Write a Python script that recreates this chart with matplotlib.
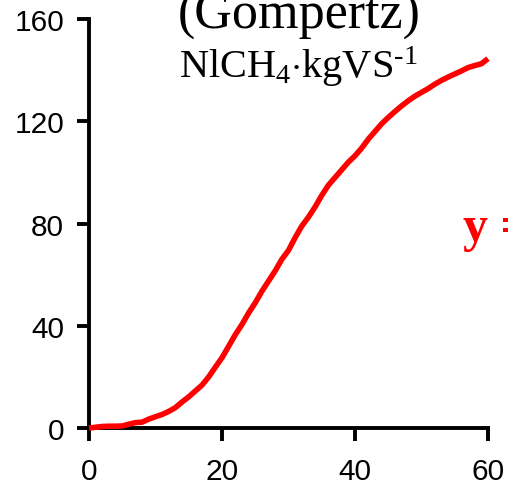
import matplotlib
matplotlib.use("Agg")
import matplotlib.pyplot as plt

# Cumulative methane yield, one reading per day
days = list(range(0, 61))
methane = [
    0.0, 0.3, 0.6, 0.7, 0.7, 0.8, 1.5, 2.1, 2.3, 3.5,
    4.4, 5.3, 6.5, 8.0, 10.2, 12.2, 14.5, 16.8, 20.0, 23.8,
    27.5, 32.0, 36.5, 40.5, 45.0, 49.0, 53.5, 57.5, 61.5, 66.0,
    69.5, 74.5, 79.0, 82.5, 86.5, 91.0, 95.0, 98.0, 101.0, 104.0,
    106.5, 109.5, 113.0, 116.0, 119.0, 121.5, 123.8, 126.0, 128.0, 129.8,
    131.3, 132.8, 134.5, 136.0, 137.3, 138.5, 139.7, 141.0, 141.8, 142.5,
    144.5,
]
x_ticks = [0, 20, 40, 60]
y_ticks = [0, 40, 80, 120, 160]

plt.rcParams.update({
    "font.family": ["Liberation Sans", "DejaVu Sans"],
    "mathtext.fontset": "custom",
    "mathtext.rm": "Liberation Serif",
    "mathtext.it": "Liberation Serif:italic",
    "mathtext.bf": "Liberation Serif:bold",
})

fig = plt.figure(figsize=(5.08, 4.89), dpi=100)
ax = fig.add_axes([0.1752, 0.1227, 0.7854, 0.8363])

ax.plot(days, methane, color="#ff0000", linewidth=4.0, clip_on=False, zorder=5,
        solid_capstyle="butt")

ax.set_xlim(0, 60)
ax.set_ylim(0, 160)
ax.set_xticks(x_ticks)
ax.set_yticks(y_ticks)
ax.spines["top"].set_visible(False)
ax.spines["right"].set_visible(False)
for side in ("left", "bottom"):
    ax.spines[side].set_linewidth(2.8)
ax.tick_params(axis="both", direction="out", length=9, width=2.8, labelsize=21.5)
ax.tick_params(axis="x", pad=12)
ax.tick_params(axis="y", pad=9)

serif = ["Liberation Serif", "DejaVu Serif"]
fig.text(0.588, 1 - 29 / 489, "(Gompertz)", family=serif, fontsize=37.5,
         ha="center", va="baseline")
fig.text(0.588, 1 - 78 / 489, r"NlCH$_4$$\cdot$kgVS$^{\text{-}1}$", family=serif,
         fontsize=29, ha="center", va="baseline")
fig.text(463 / 508, 1 - 241 / 489, "y = ", family=serif, fontsize=36,
         fontweight="bold", color="#ff0000", ha="left", va="baseline")

fig.savefig("out.png", dpi=100)
